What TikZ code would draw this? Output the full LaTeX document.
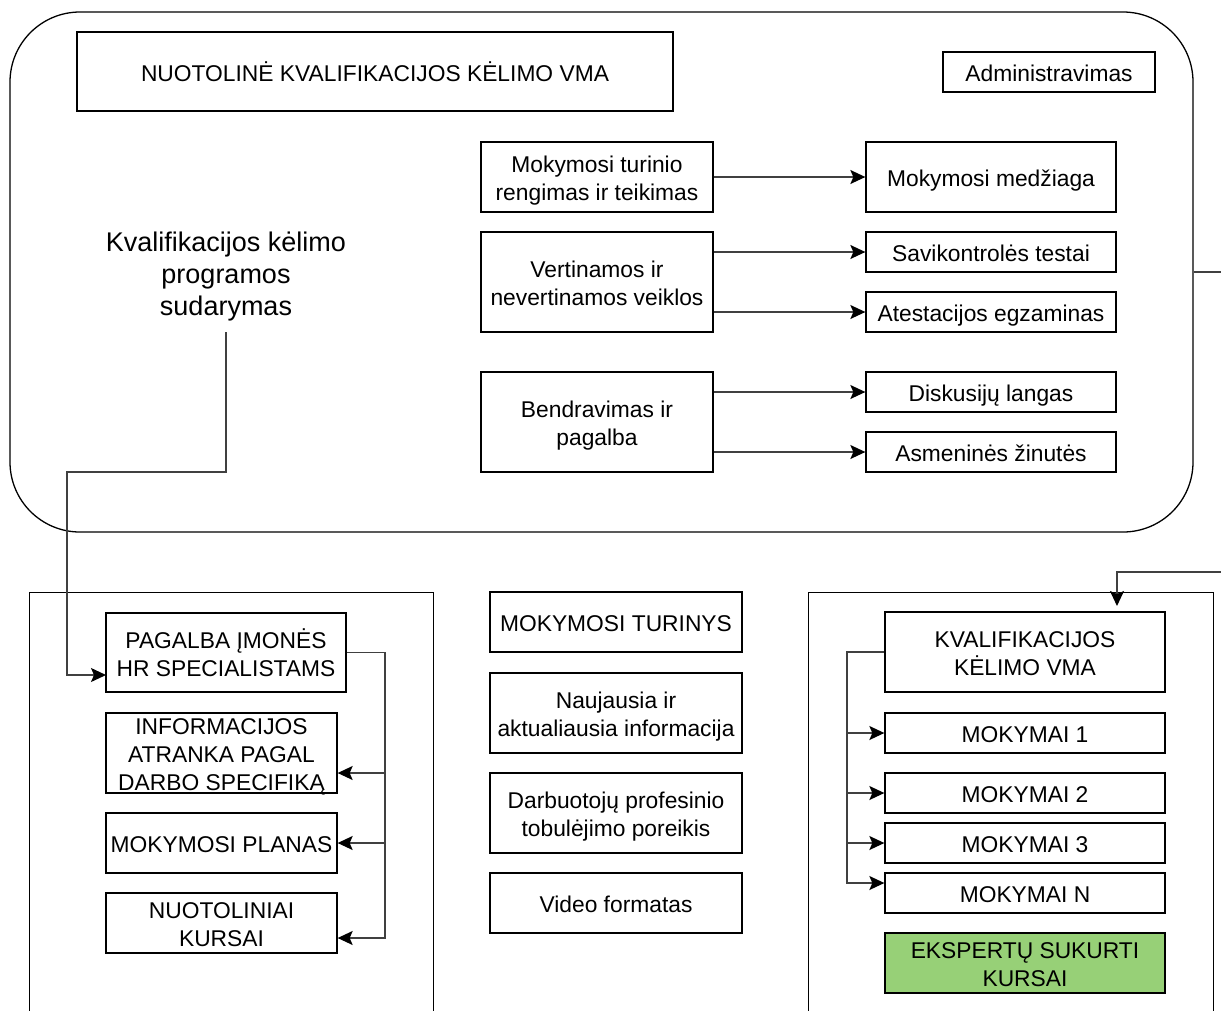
\documentclass[tikz,border=0pt]{standalone}
\usepackage{fontspec}
\setmainfont{Liberation Sans}
\usetikzlibrary{arrows.meta}

\definecolor{expertgreen}{HTML}{97D077}

% uniform line box for box labels: fixed ascent on the first line, fixed descent on the last
\newcommand\tx[1]{\rule{0pt}{24pt}#1\rule[-4.5pt]{0pt}{4.5pt}}

\tikzset{
  boxfont/.style={font=\fontsize{22.8}{28}\selectfont},
  box/.style={draw=black, line width=1.3pt, fill=white, inner sep=0pt, align=center, boxfont},
  frame/.style={draw=black, line width=1.3pt, inner sep=0pt},
  conn/.style={draw=black!75, line width=1.4pt,
               -{Stealth[length=15pt,width=14pt,inset=3pt,black]}},
}

\begin{document}
\begin{tikzpicture}[x=1pt, y=-1pt]
\useasboundingbox (0,0) rectangle (1221,1010);
\clip (0,0) rectangle (1221,1010);

% ---- upper rounded container ----
\node[frame, rounded corners=70pt, minimum width=1183pt, minimum height=520pt] (top) at (601.5,272) {};

\node[box, minimum width=596pt, minimum height=79pt] (title) at (375,71.5) {\tx{NUOTOLINĖ KVALIFIKACIJOS KĖLIMO VMA}};
\node[box, minimum width=212pt, minimum height=40pt] (admin) at (1049,72) {\tx{Administravimas}};

\node[box, minimum width=232pt, minimum height=70pt] (turinys) at (597,177) {\tx{Mokymosi turinio\\rengimas ir teikimas}};
\node[box, minimum width=250pt, minimum height=70pt] (medz) at (991,177) {\tx{Mokymosi medžiaga}};

\node[box, minimum width=232pt, minimum height=100pt] (vert) at (597,282) {\tx{Vertinamos ir\\nevertinamos veiklos}};
\node[box, minimum width=250pt, minimum height=40pt] (savik) at (991,252) {\tx{Savikontrolės testai}};
\node[box, minimum width=250pt, minimum height=40pt] (atest) at (991,312) {\tx{Atestacijos egzaminas}};

\node[box, minimum width=232pt, minimum height=100pt] (bendr) at (597,422) {\tx{Bendravimas ir\\pagalba}};
\node[box, minimum width=250pt, minimum height=40pt] (disk) at (991,392) {\tx{Diskusijų langas}};
\node[box, minimum width=250pt, minimum height=40pt] (zin) at (991,452) {\tx{Asmeninės žinutės}};

\draw[conn] (turinys.east) -- (medz.west);
\draw[conn] (vert.east |- savik.west) -- (savik.west);
\draw[conn] (vert.east |- atest.west) -- (atest.west);
\draw[conn] (bendr.east |- disk.west) -- (disk.west);
\draw[conn] (bendr.east |- zin.west) -- (zin.west);

\node[inner sep=0pt, align=center, minimum width=300pt, minimum height=110pt,
      font=\fontsize{27}{32}\selectfont] (prog) at (226,277)
  {Kvalifikacijos kėlimo\\programos\\sudarymas};

% ---- lower left container ----
\node[frame, minimum width=404pt, minimum height=440pt, anchor=north west] (left) at (29,592) {};
\node[box, minimum width=240pt, minimum height=79pt] (hr) at (226,652.5) {\tx{PAGALBA ĮMONĖS\\HR SPECIALISTAMS}};
% three lines fill this box completely, so the text is set as a centred label
\node[box, minimum width=231pt, minimum height=80pt,
      label={[inner sep=0pt, align=center, boxfont, yshift=-4pt]center:INFORMACIJOS\\ATRANKA PAGAL\\DARBO SPECIFIKĄ}]
      (atr) at (221.5,753) {};
\node[box, minimum width=231pt, minimum height=60pt] (planas) at (221.5,843) {\tx{MOKYMOSI PLANAS}};
\node[box, minimum width=231pt, minimum height=60pt] (kursai) at (221.5,923) {\tx{NUOTOLINIAI\\KURSAI}};

\coordinate (hrin) at (106,675);
\draw[conn] (prog.south) |- (67,472) |- (hrin);

\coordinate (lbus) at (385,938);
\draw[conn] (hr.east) -| (lbus) -- (kursai.east |- lbus);
\draw[conn] (lbus |- 0,773) -- (atr.east |- 0,773);
\draw[conn] (lbus |- planas.east) -- (planas.east);

% ---- middle column ----
\node[box, minimum width=252pt, minimum height=60pt] (mt) at (616,622) {\tx{MOKYMOSI TURINYS}};
\node[box, minimum width=252pt, minimum height=80pt] (nauj) at (616,713) {\tx{Naujausia ir\\aktualiausia informacija}};
\node[box, minimum width=252pt, minimum height=80pt] (darb) at (616,813) {\tx{Darbuotojų profesinio\\tobulėjimo poreikis}};
\node[box, minimum width=252pt, minimum height=60pt] (video) at (616,903) {\tx{Video formatas}};

% ---- lower right container ----
\node[frame, minimum width=405pt, minimum height=440pt, anchor=north west] (right) at (808,592) {};
\node[box, minimum width=280pt, minimum height=80pt] (vma) at (1025,652) {\tx{KVALIFIKACIJOS\\KĖLIMO VMA}};
\node[box, minimum width=280pt, minimum height=40pt] (m1) at (1025,733) {\tx{MOKYMAI 1}};
\node[box, minimum width=280pt, minimum height=40pt] (m2) at (1025,793) {\tx{MOKYMAI 2}};
\node[box, minimum width=280pt, minimum height=40pt] (m3) at (1025,843) {\tx{MOKYMAI 3}};
\node[box, minimum width=280pt, minimum height=40pt] (mn) at (1025,893) {\tx{MOKYMAI N}};
\node[box, fill=expertgreen, minimum width=280pt, minimum height=60pt] (eksp) at (1025,963) {\tx{EKSPERTŲ SUKURTI\\KURSAI}};

\coordinate (rbus) at (847,883);
\draw[conn] (vma.west) -| (rbus) -- (mn.west |- rbus);
\draw[conn] (rbus |- m1.west) -- (m1.west);
\draw[conn] (rbus |- m2.west) -- (m2.west);
\draw[conn] (rbus |- m3.west) -- (m3.west);

% link from the upper container round to the right-hand container
\coordinate (vmain) at (1117,606);
\draw[conn] (top.east) -- (1240,272) -- (1240,572) -| (vmain);
\end{tikzpicture}
\end{document}
